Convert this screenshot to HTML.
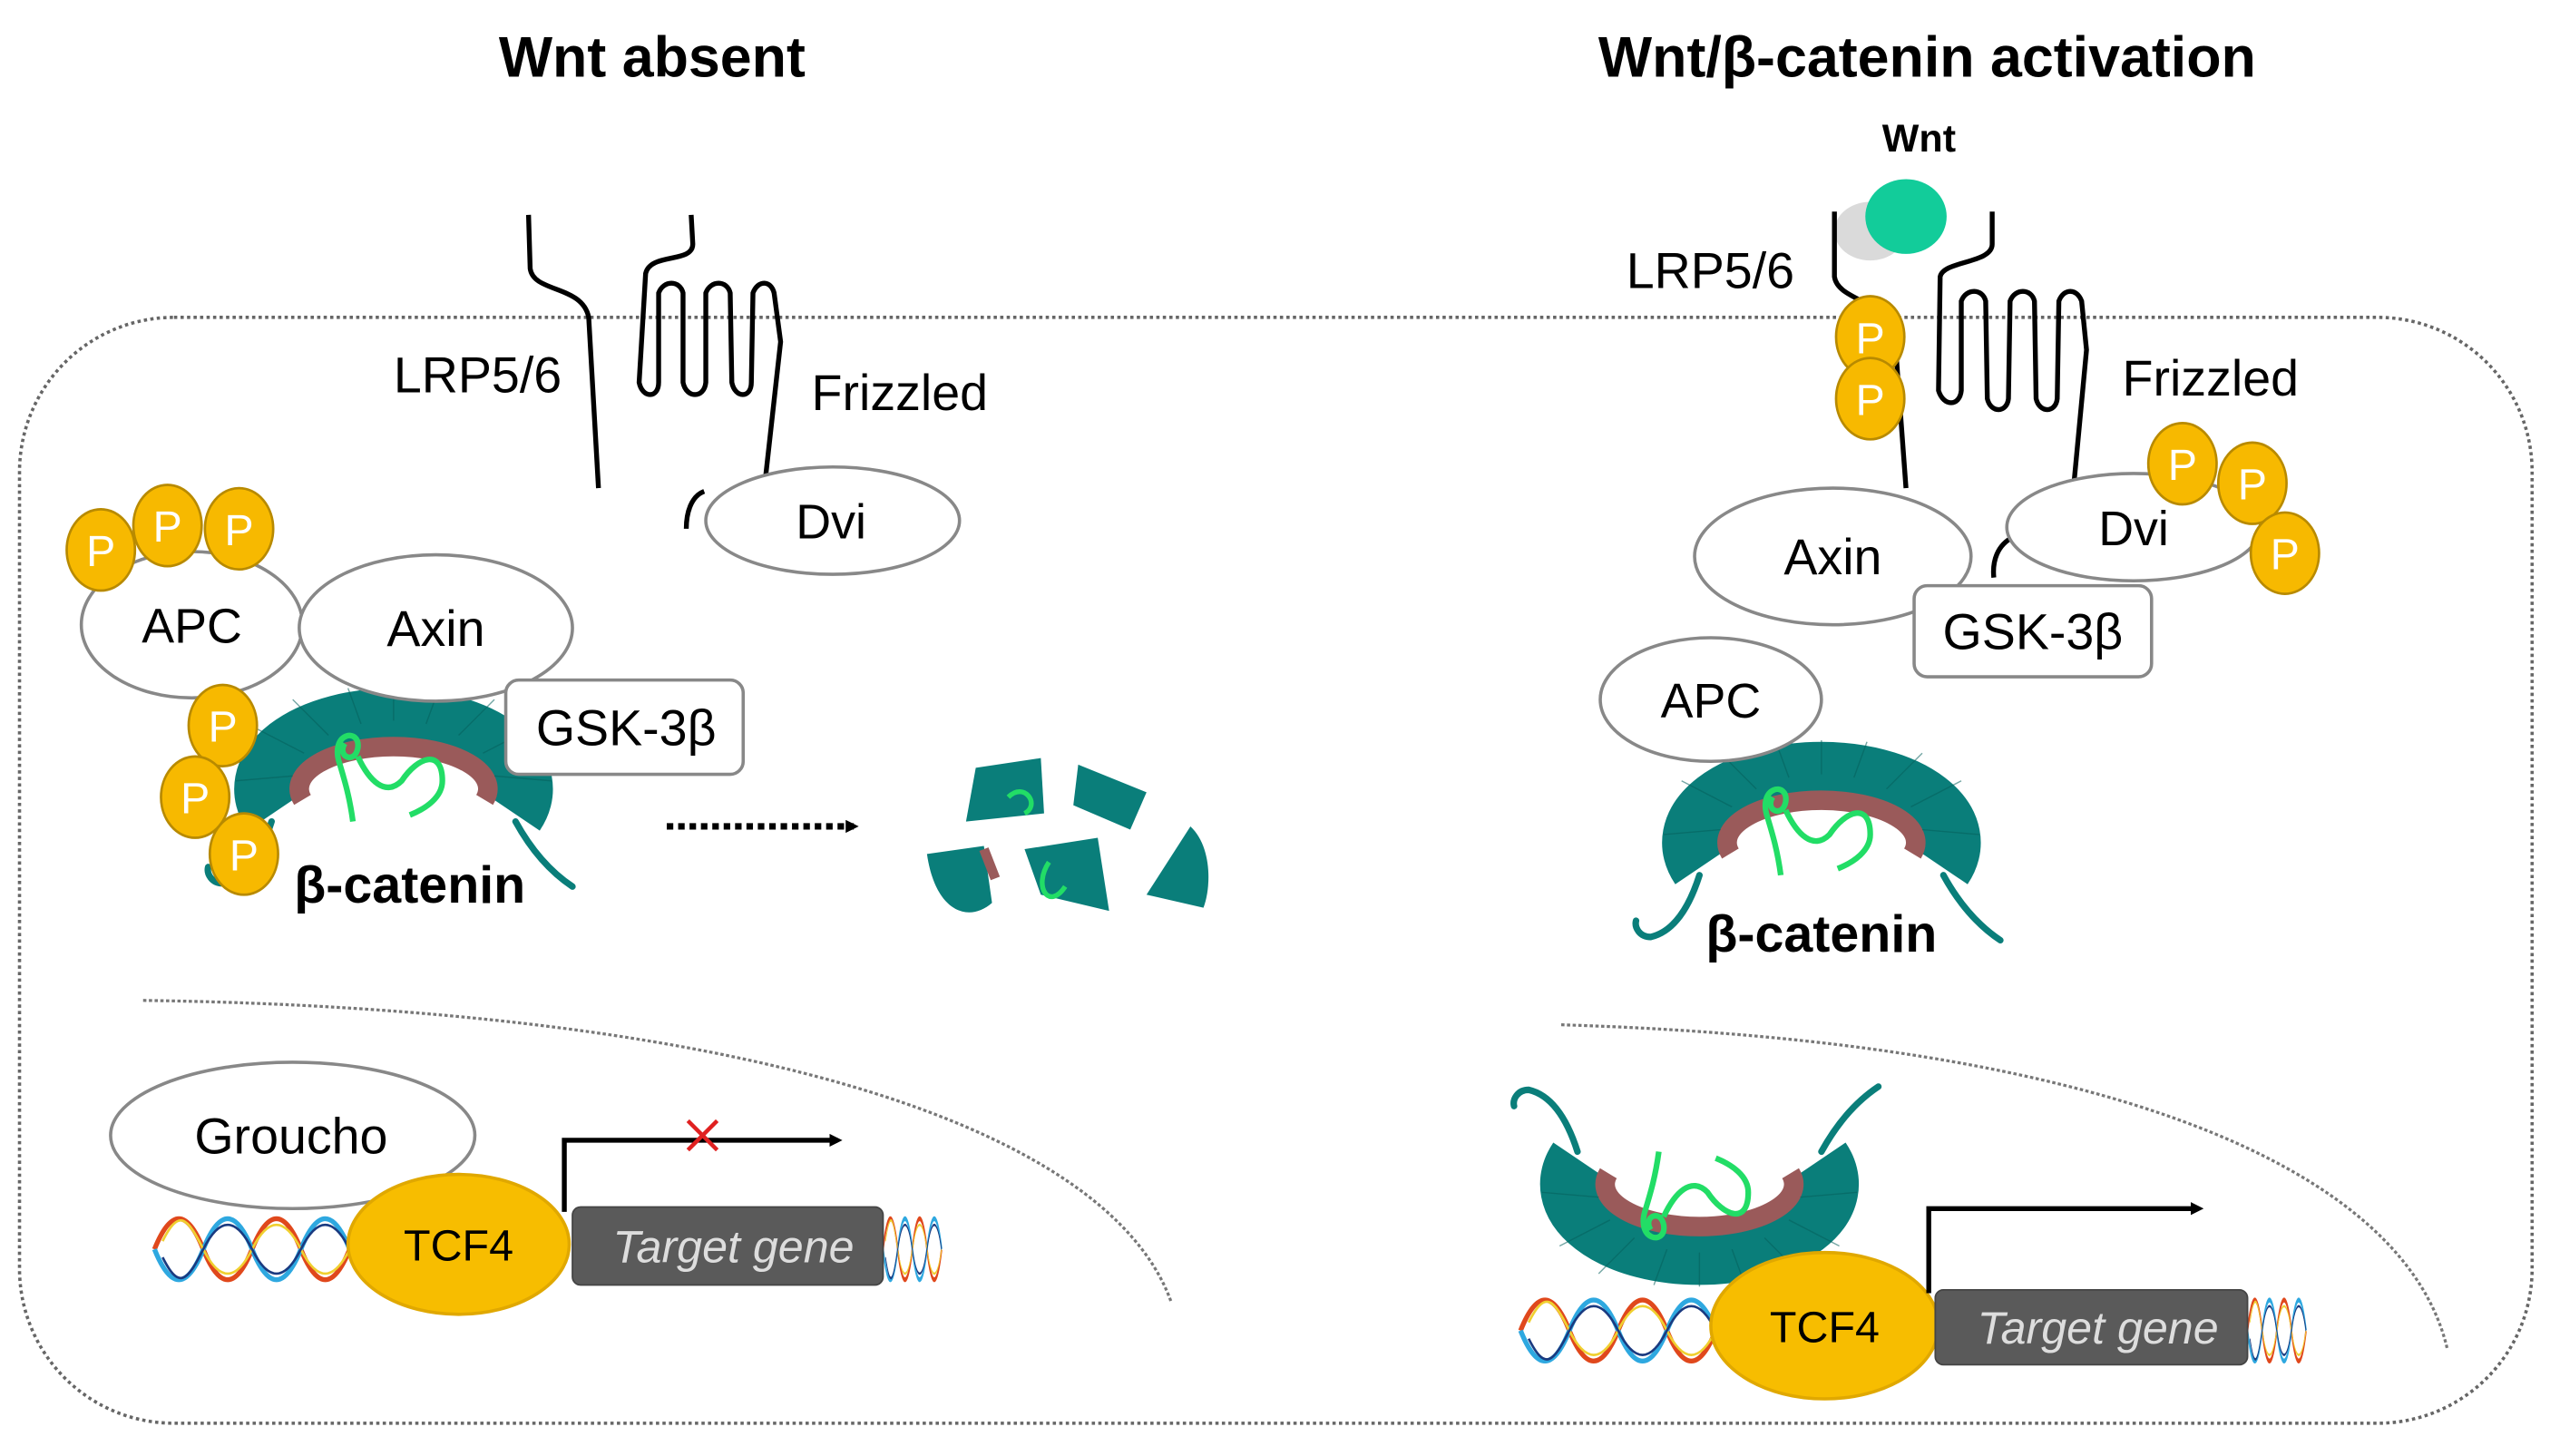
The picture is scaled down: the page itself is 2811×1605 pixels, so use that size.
<!DOCTYPE html>
<html><head><meta charset="utf-8"><style>
html,body{margin:0;padding:0;background:#fff;}
svg{display:block;}
text{font-family:"Liberation Sans",Arial,sans-serif;}
</style></head><body>
<svg width="2811" height="1605" viewBox="0 0 1568 895" xmlns="http://www.w3.org/2000/svg">
<defs>
<marker id="ah" markerWidth="8" markerHeight="8" refX="5" refY="4" orient="auto" markerUnits="userSpaceOnUse"><path d="M0,0 L8,4 L0,8 z" fill="#000"/></marker>
<g id="P"><ellipse cx="0" cy="0" rx="21" ry="25" fill="#f7b900" stroke="#b88a00" stroke-width="1.5"/><text x="0" y="10" font-size="27" fill="#fff" text-anchor="middle">P</text></g>
<g id="cat">
 <path d="M-75,20 C-82,42 -92,55 -105,58 C-112,58 -115,52 -114,48" fill="none" stroke="#0a7e7a" stroke-width="4" stroke-linecap="round"/>
 <path d="M75,20 C86,40 98,52 110,60" fill="none" stroke="#0a7e7a" stroke-width="4" stroke-linecap="round"/>
 <path d="M-73.3,14.4 A78,42 0 1 1 73.3,14.4" fill="none" stroke="#0a7e7a" stroke-width="40"/>
 <path d="M-56,6.7 A58,26 0 1 1 56,6.7" fill="none" stroke="#9a5a5a" stroke-width="12"/>
 <g stroke="#06605c" stroke-width="0.8" opacity="0.55">
 <line x1="-62" y1="-8" x2="-97" y2="-5"/><line x1="-55" y1="-22" x2="-86" y2="-38"/><line x1="-40" y1="-33" x2="-62" y2="-55"/><line x1="-20" y1="-40" x2="-28" y2="-62"/><line x1="0" y1="-42" x2="0" y2="-63"/><line x1="20" y1="-40" x2="28" y2="-62"/><line x1="40" y1="-33" x2="62" y2="-55"/><line x1="55" y1="-22" x2="86" y2="-38"/><line x1="62" y1="-8" x2="97" y2="-5"/></g>
 <path d="M-25,20 C-27,5 -30,-5 -33,-15 C-40,-35 -20,-38 -22,-25 C-24,-15 -35,-20 -30,-28 M-22,-20 C-15,-5 -5,5 5,-5 C15,-20 30,-25 30,-5 C30,5 20,12 10,16" fill="none" stroke="#22dd66" stroke-width="3.5"/>
</g>
<g id="dna" fill="none" stroke-width="3">
 <path d="M0,0 c10,-25 20,-25 30,0 s20,25 30,0 s20,-25 30,0 s20,25 30,0" stroke="#e0481c"/>
 <path d="M0,0 c10,25 20,25 30,0 s20,-25 30,0 s20,25 30,0 s20,-25 30,0" stroke="#2ea8e0"/>
 <path d="M5,-5 c10,-20 15,-15 25,5 s20,20 30,0 s20,-20 30,0 s20,20 30,0" stroke="#f0d030" stroke-width="1.5"/>
 <path d="M5,5 c10,20 15,15 25,-5 s20,-20 30,0 s20,20 30,0 s20,-20 30,0" stroke="#1a3a80" stroke-width="1.5"/>
</g>
</defs>

<text x="401" y="47" font-size="35" font-weight="bold" text-anchor="middle">Wnt absent</text>
<text x="1185" y="47" font-size="35" font-weight="bold" text-anchor="middle">Wnt/β-catenin activation</text>

<rect x="12" y="195" width="1545" height="680" rx="95" ry="95" fill="none" stroke="#666" stroke-width="2" stroke-dasharray="2,2"/>
<path d="M88,615 C450,620 680,690 720,800" fill="none" stroke="#777" stroke-width="1.8" stroke-dasharray="2,1.5"/>
<path d="M960,630 C1300,640 1480,720 1505,830" fill="none" stroke="#777" stroke-width="1.8" stroke-dasharray="2,1.5"/>

<g fill="none" stroke="#000" stroke-width="3">
<path d="M325,132 L326,165 C328,180 358,175 362,195 L368,300"/>
<path d="M425,132 L426,150 C426,162 400,155 397,168 L393,235 C395,245 405,245 405,235 L405,180 C408,172 418,172 420,180 L420,235 C422,245 433,245 434,235 L434,180 C437,172 447,172 449,180 L450,235 C452,245 462,245 462,235 L463,180 C466,172 474,172 476,180 L480,210 L470,300"/>
<path d="M433,302 C425,305 422,315 422,325"/>
</g>
<text x="242" y="241" font-size="31">LRP5/6</text>
<text x="499" y="252" font-size="31">Frizzled</text>
<ellipse cx="512" cy="320" rx="78" ry="33" fill="#fff" stroke="#888" stroke-width="2"/>
<text x="511" y="331" font-size="30" text-anchor="middle">Dvi</text>

<use href="#cat" x="242" y="485"/>
<ellipse cx="118" cy="384" rx="68" ry="45" fill="#fff" stroke="#888" stroke-width="2"/>
<ellipse cx="268" cy="386" rx="84" ry="45" fill="#fff" stroke="#888" stroke-width="2"/>
<text x="118" y="395" font-size="30" text-anchor="middle">APC</text>
<text x="268" y="397" font-size="31" text-anchor="middle">Axin</text>
<rect x="311" y="418" width="146" height="58" rx="8" fill="#fff" stroke="#888" stroke-width="2"/>
<text x="385" y="458" font-size="31" text-anchor="middle">GSK-3β</text>
<use href="#P" x="62" y="338"/><use href="#P" x="103" y="323"/><use href="#P" x="147" y="325"/>
<use href="#P" x="137" y="446"/><use href="#P" x="120" y="490"/><use href="#P" x="150" y="525"/>
<text x="252" y="555" font-size="32" font-weight="bold" text-anchor="middle">β-catenin</text>

<line x1="410" y1="508" x2="525" y2="508" stroke="#000" stroke-width="4" stroke-dasharray="4,3" marker-end="url(#ah)"/>
<g fill="#0a7e7a">
<path d="M600,472 L640,466 L642,500 L594,505 z"/>
<path d="M663,470 L705,487 L695,510 L660,495 z"/>
<path d="M570,525 L605,520 L610,555 C595,568 575,560 570,525 z"/>
<path d="M630,522 L675,515 L682,560 L640,550 z"/>
<path d="M705,550 L732,508 C745,520 745,545 740,558 z"/>
</g>
<path d="M605,522 L612,540" stroke="#9a5a5a" stroke-width="6"/>
<path d="M620,490 C630,480 640,495 630,500 M645,530 C635,545 645,560 655,545" fill="none" stroke="#22dd66" stroke-width="3"/>

<use href="#dna" x="95" y="768"/>
<g transform="translate(543,768) scale(0.3,1)"><use href="#dna"/></g>
<ellipse cx="180" cy="698" rx="112" ry="45" fill="#fff" stroke="#888" stroke-width="2"/>
<text x="179" y="709" font-size="31" text-anchor="middle">Groucho</text>
<ellipse cx="282" cy="765" rx="68" ry="43" fill="#f7bd00" stroke="#e0a800" stroke-width="2"/>
<text x="282" y="775" font-size="27" text-anchor="middle">TCF4</text>
<rect x="352" y="742" width="191" height="48" rx="5" fill="#5a5a5a" stroke="#444"/>
<text x="451" y="776" font-size="28" font-style="italic" fill="#ddd" text-anchor="middle">Target gene</text>
<path d="M347,745 L347,701 L515,701" fill="none" stroke="#000" stroke-width="3" marker-end="url(#ah)"/>
<path d="M423,689 L441,707 M441,689 L423,707" stroke="#e02020" stroke-width="2.5"/>

<text x="1180" y="93" font-size="24" font-weight="bold" text-anchor="middle">Wnt</text>
<ellipse cx="1150" cy="142" rx="22" ry="18" fill="#bbb" opacity="0.55"/>
<ellipse cx="1172" cy="133" rx="25" ry="23" fill="#12cc9a"/>
<g fill="none" stroke="#000" stroke-width="3">
<path d="M1128,130 L1128,170 C1130,185 1162,185 1165,205 L1172,300"/>
<path d="M1225,130 L1225,150 C1225,162 1195,160 1193,170 L1192,240 C1195,250 1205,250 1206,240 L1206,185 C1209,177 1219,177 1221,185 L1222,245 C1224,254 1234,254 1235,245 L1236,185 C1239,177 1249,177 1251,185 L1252,245 C1254,254 1264,254 1265,245 L1266,185 C1269,177 1277,177 1280,185 L1283,215 L1275,300"/>
<path d="M1238,330 C1228,335 1225,345 1226,355"/>
</g>
<text x="1000" y="177" font-size="31">LRP5/6</text>
<text x="1305" y="243" font-size="31">Frizzled</text>
<use href="#P" x="1150" y="207"/><use href="#P" x="1150" y="245"/>
<ellipse cx="1127" cy="342" rx="85" ry="42" fill="#fff" stroke="#888" stroke-width="2"/>
<text x="1127" y="353" font-size="31" text-anchor="middle">Axin</text>
<ellipse cx="1312" cy="324" rx="78" ry="33" fill="#fff" stroke="#888" stroke-width="2"/>
<text x="1312" y="335" font-size="30" text-anchor="middle">Dvi</text>
<use href="#P" x="1342" y="285"/><use href="#P" x="1385" y="297"/><use href="#P" x="1405" y="340"/>
<rect x="1177" y="360" width="146" height="56" rx="8" fill="#fff" stroke="#888" stroke-width="2"/>
<text x="1250" y="399" font-size="31" text-anchor="middle">GSK-3β</text>
<use href="#cat" x="1120" y="518"/>
<ellipse cx="1052" cy="430" rx="68" ry="38" fill="#fff" stroke="#888" stroke-width="2"/>
<text x="1052" y="441" font-size="30" text-anchor="middle">APC</text>
<text x="1120" y="585" font-size="32" font-weight="bold" text-anchor="middle">β-catenin</text>

<use href="#dna" x="935" y="818"/>
<g transform="translate(1382,818) scale(0.3,1)"><use href="#dna"/></g>
<g transform="translate(1045,728) scale(1,-1)"><use href="#cat"/></g>
<ellipse cx="1122" cy="815" rx="70" ry="45" fill="#f7bd00" stroke="#e0a800" stroke-width="2"/>
<text x="1122" y="825" font-size="27" text-anchor="middle">TCF4</text>
<rect x="1190" y="793" width="192" height="46" rx="5" fill="#5a5a5a" stroke="#444"/>
<text x="1290" y="826" font-size="28" font-style="italic" fill="#ddd" text-anchor="middle">Target gene</text>
<path d="M1186,795 L1186,743 L1352,743" fill="none" stroke="#000" stroke-width="3" marker-end="url(#ah)"/>
</svg>
</body></html>
